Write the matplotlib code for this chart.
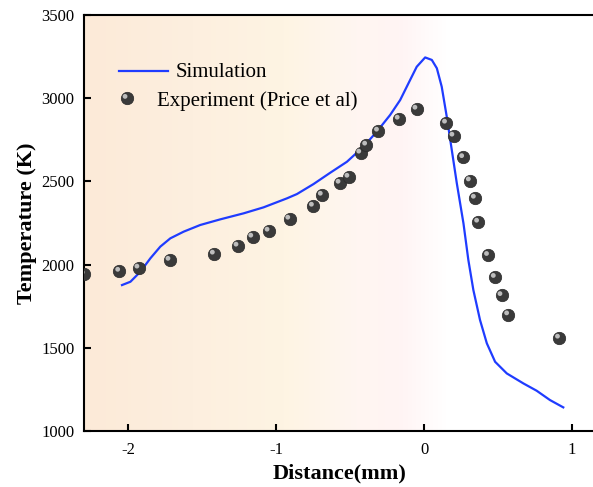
import numpy as np
import matplotlib
matplotlib.use("Agg")
import matplotlib.pyplot as plt
import matplotlib.transforms as mtransforms
from matplotlib.colors import LinearSegmentedColormap

plt.rcParams['font.family'] = ['Liberation Serif', 'DejaVu Serif']

# Simulation curve
sim_x = [-2.043, -1.986, -1.919, -1.851, -1.784, -1.716, -1.626, -1.514, -1.378,
         -1.221, -1.086, -0.928, -0.860, -0.748, -0.635, -0.522, -0.410, -0.320,
         -0.230, -0.162, -0.095, -0.050, 0.007, 0.052, 0.086, 0.119, 0.153, 0.187,
         0.221, 0.266, 0.299, 0.333, 0.378, 0.424, 0.480, 0.559, 0.671, 0.761,
         0.851, 0.941]
sim_y = [1877, 1897, 1957, 2038, 2108, 2158, 2198, 2238, 2272,
         2308, 2344, 2398, 2424, 2484, 2552, 2618, 2709, 2799,
         2899, 2989, 3109, 3189, 3245, 3230, 3180, 3069, 2889, 2689,
         2489, 2248, 2028, 1847, 1667, 1527, 1416, 1346, 1286, 1242,
         1186, 1142]

# Experiment (Price et al)
exp_x = [-2.30, -2.06, -1.93, -1.72, -1.42, -1.26, -1.16, -1.05, -0.91, -0.75,
         -0.69, -0.57, -0.51, -0.43, -0.39, -0.31, -0.17, -0.05, 0.15, 0.20,
         0.266, 0.311, 0.345, 0.367, 0.434, 0.480, 0.525, 0.570, 0.914]
exp_y = [1943, 1961, 1980, 2027, 2064, 2112, 2166, 2202, 2274, 2352,
         2418, 2490, 2526, 2671, 2719, 2803, 2875, 2935, 2851, 2773,
         2644, 2504, 2400, 2256, 2056, 1924, 1815, 1699, 1559]

xticks = [-2, -1, 0, 1]
yticks = [1000, 1500, 2000, 2500, 3000, 3500]

fig = plt.figure(figsize=(5.93, 4.87), dpi=100)
ax = fig.add_axes([84/593, 1-431/487, 1.0 - 84/593 + 0.002, (431-15)/487])
ax.set_xlim(-2.30, 1.15)
ax.set_ylim(1000, 3500)

# background gradient
cmap = LinearSegmentedColormap.from_list('bg', [
    (0.0, (252/255, 234/255, 216/255)),
    (0.3, (253/255, 239/255, 223/255)),
    (0.55, (254/255, 244/255, 227/255)),
    (0.75, (255/255, 246/255, 241/255)),
    (0.87, (255/255, 244/255, 244/255)),
    (1.0, (1, 1, 1)),
])
grad = np.linspace(0, 1, 256).reshape(1, -1)
ax.imshow(grad, cmap=cmap, extent=[-2.30, 0.15, 1000, 3500], aspect='auto', zorder=0)

ax.plot(sim_x, sim_y, color='#1f3cff', lw=1.6, zorder=3, solid_joinstyle='round')

# shaded sphere markers
ax.scatter(exp_x, exp_y, s=80, color='#3a3a3a', edgecolors='#2a2a2a', linewidths=0.5, zorder=4, clip_on=True)
off = mtransforms.ScaledTranslation(-1.3/72, 1.3/72, fig.dpi_scale_trans)
ax.scatter(exp_x, exp_y, s=12, color='#bdbdbd', edgecolors='none', zorder=5,
           transform=ax.transData + off)

# legend (manual)
ax.plot([0.069, 0.165], [0.866, 0.866], transform=ax.transAxes, color='#1f3cff', lw=1.6)
ax.text(0.179, 0.861, 'Simulation', transform=ax.transAxes, fontsize=15, va='center', ha='left')
ax.scatter([0.084], [0.800], transform=ax.transAxes, s=80, color='#3a3a3a', edgecolors='#2a2a2a', linewidths=0.5, zorder=4)
ax.scatter([0.084], [0.800], transform=ax.transAxes + off, s=12, color='#bdbdbd', edgecolors='none', zorder=5)
ax.text(0.143, 0.794, 'Experiment (Price et al)', transform=ax.transAxes, fontsize=15, va='center', ha='left')

ax.set_xticks(xticks)
ax.set_xticklabels([str(v) for v in xticks])
ax.set_yticks(yticks)
ax.set_yticklabels([str(v) for v in yticks])
ax.tick_params(direction='in', length=5, width=1.5, labelsize=12, top=False, right=False)
ax.tick_params(axis='y', pad=7)
ax.tick_params(axis='x', pad=8)
for s in ax.spines.values():
    s.set_linewidth(1.5)

ax.set_xlabel('Distance(mm)', fontsize=16, fontweight='bold', labelpad=4)
ax.set_ylabel('Temperature (K)', fontsize=16, fontweight='bold', labelpad=3)

fig.savefig('out.png', dpi=100)
